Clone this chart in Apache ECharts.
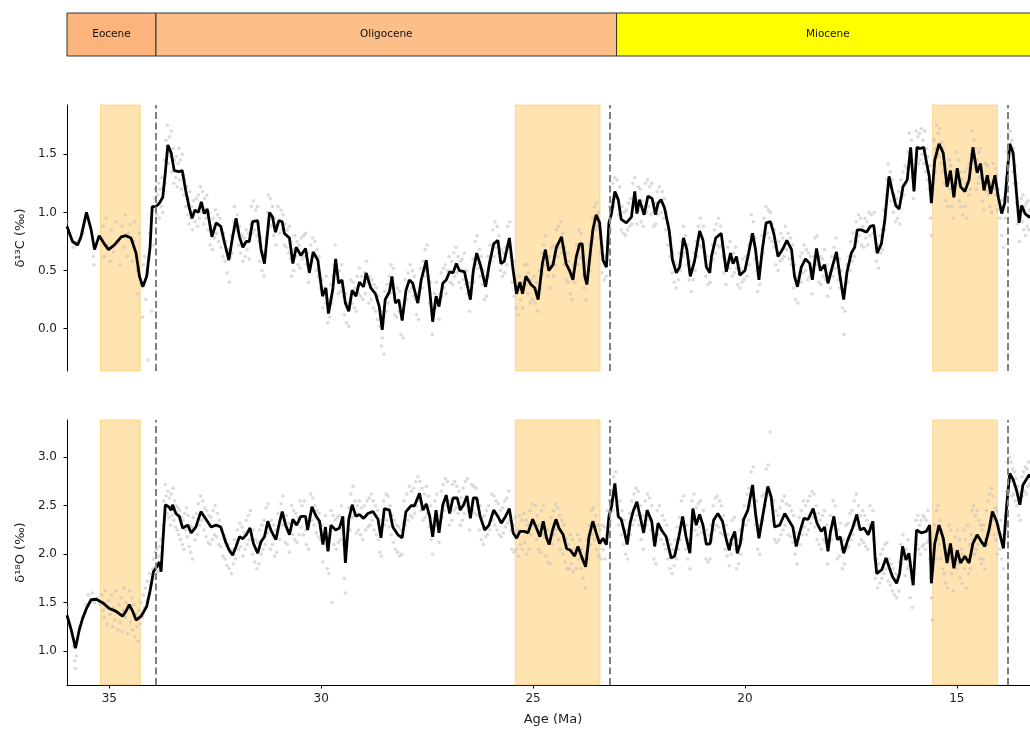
<!DOCTYPE html>
<html><head><meta charset="utf-8">
<script src="https://cdn.jsdelivr.net/npm/echarts@6/dist/echarts.min.js"></script>
<style>html,body{margin:0;padding:0;background:#fff;overflow:hidden}#c{width:1040px;height:730px}</style>
</head><body><div id="c"></div><script>
const epochNames = ['Eocene','Oligocene','Miocene'];
const epochStart = [37.8, 33.9, 23.03];
const epochEnd = [33.9, 23.03, 5.33];
const epochColors = ['#FDB47C','#FDBF8A','#FFFF00'];
const shadeStart = [35.21, 25.42, 15.57];
const shadeEnd = [34.27, 23.42, 14.04];
const eventAges = [33.9, 23.18, 13.8];
const ageTicks = [35,30,25,20,15];
const c13Ticks = [0,0.5,1,1.5];
const o18Ticks = [1,1.5,2,2.5,3];
const AGE_MIN = 13.06, AGE_MAX = 36.0;
const C13_MIN = -0.364, C13_MAX = 1.924;
const O18_MIN = 0.65, O18_MAX = 3.385;

const c13Line = [[36.0,0.88],[35.87,0.75],[35.75,0.72],[35.67,0.79],[35.54,1.0],[35.43,0.85],[35.35,0.68],[35.24,0.8],[35.12,0.73],[35.02,0.68],[34.88,0.72],[34.72,0.79],[34.61,0.8],[34.49,0.78],[34.37,0.65],[34.29,0.45],[34.21,0.36],[34.12,0.45],[34.04,0.7],[33.99,1.05],[33.9,1.05],[33.82,1.08],[33.74,1.13],[33.68,1.34],[33.62,1.58],[33.54,1.51],[33.47,1.36],[33.35,1.35],[33.28,1.36],[33.2,1.19],[33.12,1.05],[33.05,0.95],[32.98,1.02],[32.9,1.0],[32.83,1.09],[32.76,0.99],[32.69,1.03],[32.58,0.79],[32.48,0.91],[32.37,0.88],[32.29,0.75],[32.18,0.59],[32.11,0.75],[32.01,0.95],[31.93,0.79],[31.85,0.7],[31.77,0.75],[31.7,0.75],[31.62,0.92],[31.5,0.93],[31.42,0.68],[31.34,0.56],[31.22,1.0],[31.15,0.96],[31.08,0.83],[31.0,0.93],[30.92,0.92],[30.87,0.82],[30.75,0.78],[30.67,0.56],[30.59,0.7],[30.48,0.63],[30.37,0.69],[30.28,0.48],[30.19,0.66],[30.08,0.59],[29.97,0.28],[29.89,0.35],[29.83,0.13],[29.73,0.33],[29.66,0.6],[29.59,0.39],[29.51,0.42],[29.43,0.22],[29.35,0.15],[29.27,0.33],[29.18,0.28],[29.1,0.4],[29.0,0.36],[28.94,0.48],[28.83,0.35],[28.72,0.3],[28.63,0.19],[28.56,-0.01],[28.49,0.25],[28.39,0.32],[28.33,0.45],[28.25,0.22],[28.17,0.25],[28.09,0.07],[28.0,0.33],[27.92,0.42],[27.84,0.39],[27.72,0.22],[27.64,0.42],[27.52,0.59],[27.44,0.33],[27.37,0.06],[27.29,0.28],[27.22,0.19],[27.13,0.39],[27.05,0.42],[26.97,0.49],[26.89,0.48],[26.81,0.56],[26.74,0.5],[26.62,0.49],[26.48,0.25],[26.41,0.5],[26.33,0.65],[26.23,0.53],[26.12,0.36],[26.03,0.56],[25.93,0.73],[25.83,0.76],[25.76,0.56],[25.68,0.58],[25.56,0.78],[25.47,0.5],[25.39,0.3],[25.31,0.4],[25.25,0.3],[25.17,0.45],[25.05,0.38],[24.96,0.35],[24.88,0.25],[24.78,0.56],[24.71,0.68],[24.63,0.5],[24.53,0.55],[24.45,0.7],[24.33,0.79],[24.22,0.56],[24.14,0.5],[24.06,0.42],[23.98,0.62],[23.9,0.73],[23.84,0.73],[23.78,0.45],[23.73,0.38],[23.66,0.62],[23.59,0.85],[23.51,0.98],[23.43,0.91],[23.35,0.59],[23.27,0.53],[23.21,0.91],[23.15,0.99],[23.07,1.18],[22.99,1.11],[22.92,0.94],[22.8,0.91],[22.68,0.96],[22.6,1.18],[22.55,0.99],[22.49,1.11],[22.38,0.98],[22.29,1.14],[22.19,1.12],[22.11,0.98],[22.05,1.08],[21.98,1.11],[21.9,1.04],[21.79,0.85],[21.71,0.59],[21.62,0.48],[21.54,0.53],[21.45,0.78],[21.37,0.68],[21.29,0.45],[21.19,0.58],[21.07,0.84],[20.99,0.76],[20.91,0.53],[20.83,0.48],[20.79,0.62],[20.69,0.78],[20.56,0.82],[20.44,0.49],[20.34,0.65],[20.28,0.56],[20.2,0.62],[20.12,0.46],[20.0,0.5],[19.93,0.62],[19.82,0.82],[19.75,0.68],[19.67,0.42],[19.59,0.68],[19.5,0.91],[19.4,0.92],[19.32,0.82],[19.22,0.62],[19.1,0.69],[19.01,0.76],[18.9,0.68],[18.83,0.45],[18.76,0.36],[18.67,0.53],[18.57,0.6],[18.47,0.56],[18.41,0.42],[18.31,0.69],[18.22,0.5],[18.12,0.55],[18.04,0.39],[17.94,0.53],[17.84,0.66],[17.76,0.46],[17.67,0.25],[17.59,0.49],[17.49,0.65],[17.41,0.7],[17.35,0.85],[17.25,0.85],[17.13,0.83],[17.04,0.88],[16.96,0.89],[16.88,0.65],[16.78,0.73],[16.7,0.93],[16.6,1.31],[16.52,1.18],[16.44,1.06],[16.36,1.03],[16.27,1.22],[16.17,1.28],[16.09,1.56],[16.01,1.18],[15.94,1.56],[15.86,1.55],[15.78,1.56],[15.71,1.42],[15.65,1.31],[15.6,1.08],[15.52,1.45],[15.42,1.59],[15.32,1.51],[15.23,1.22],[15.15,1.36],[15.07,1.13],[14.99,1.38],[14.91,1.22],[14.81,1.18],[14.71,1.28],[14.62,1.56],[14.52,1.34],[14.44,1.42],[14.36,1.19],[14.28,1.32],[14.2,1.16],[14.1,1.32],[14.02,1.13],[13.94,0.99],[13.87,1.08],[13.75,1.59],[13.67,1.51],[13.59,1.16],[13.53,0.91],[13.47,1.06],[13.39,0.99],[13.29,0.96],[13.15,1.0]];

const o18Line = [[36.0,1.37],[35.9,1.22],[35.8,1.03],[35.71,1.22],[35.63,1.34],[35.54,1.44],[35.43,1.53],[35.31,1.535],[35.16,1.5],[35.0,1.44],[34.84,1.41],[34.69,1.36],[34.61,1.41],[34.53,1.48],[34.45,1.41],[34.37,1.32],[34.25,1.36],[34.12,1.46],[34.04,1.62],[33.96,1.82],[33.88,1.87],[33.82,1.92],[33.78,1.82],[33.73,2.18],[33.68,2.51],[33.6,2.49],[33.54,2.455],[33.51,2.51],[33.43,2.42],[33.35,2.39],[33.27,2.27],[33.15,2.3],[33.07,2.22],[32.96,2.28],[32.84,2.44],[32.72,2.36],[32.6,2.28],[32.48,2.3],[32.37,2.28],[32.26,2.13],[32.17,2.04],[32.09,1.99],[32.01,2.08],[31.93,2.18],[31.85,2.16],[31.77,2.2],[31.68,2.27],[31.6,2.11],[31.5,2.01],[31.42,2.13],[31.34,2.18],[31.26,2.34],[31.18,2.24],[31.07,2.15],[30.99,2.32],[30.92,2.44],[30.84,2.3],[30.75,2.2],[30.67,2.36],[30.58,2.3],[30.48,2.39],[30.37,2.39],[30.32,2.25],[30.22,2.49],[30.12,2.39],[30.04,2.34],[29.96,2.1],[29.9,2.28],[29.84,2.03],[29.77,2.3],[29.66,2.25],[29.57,2.27],[29.49,2.39],[29.43,1.91],[29.35,2.36],[29.27,2.51],[29.18,2.39],[29.1,2.41],[29.0,2.37],[28.9,2.42],[28.78,2.44],[28.66,2.36],[28.59,2.17],[28.51,2.47],[28.39,2.455],[28.31,2.28],[28.19,2.2],[28.09,2.17],[28.0,2.44],[27.88,2.5],[27.8,2.5],[27.68,2.63],[27.6,2.455],[27.52,2.52],[27.44,2.39],[27.37,2.18],[27.29,2.455],[27.22,2.22],[27.13,2.51],[27.05,2.61],[26.97,2.42],[26.89,2.58],[26.79,2.58],[26.72,2.455],[26.64,2.51],[26.56,2.6],[26.48,2.37],[26.41,2.58],[26.33,2.58],[26.25,2.39],[26.14,2.25],[26.04,2.3],[25.93,2.455],[25.83,2.39],[25.75,2.32],[25.65,2.39],[25.56,2.47],[25.47,2.22],[25.39,2.165],[25.31,2.235],[25.2,2.235],[25.12,2.22],[25.01,2.36],[24.92,2.27],[24.84,2.18],[24.76,2.34],[24.68,2.165],[24.62,2.1],[24.54,2.25],[24.46,2.36],[24.39,2.27],[24.29,2.2],[24.21,2.06],[24.12,2.04],[24.02,1.98],[23.94,2.08],[23.86,1.98],[23.76,1.87],[23.68,2.18],[23.59,2.34],[23.51,2.22],[23.43,2.11],[23.35,2.165],[23.27,2.1],[23.21,2.39],[23.15,2.49],[23.07,2.73],[22.99,2.39],[22.92,2.36],[22.84,2.22],[22.78,2.1],[22.71,2.32],[22.64,2.44],[22.55,2.54],[22.46,2.36],[22.39,2.22],[22.31,2.455],[22.2,2.34],[22.13,2.08],[22.05,2.32],[21.97,2.25],[21.86,2.18],[21.74,1.96],[21.66,1.98],[21.56,2.18],[21.47,2.39],[21.39,2.18],[21.3,2.01],[21.23,2.47],[21.15,2.3],[21.07,2.41],[20.99,2.3],[20.91,2.1],[20.82,2.11],[20.74,2.35],[20.64,2.42],[20.53,2.34],[20.44,2.15],[20.37,2.04],[20.32,2.15],[20.24,2.235],[20.18,2.01],[20.11,2.11],[20.03,2.36],[19.93,2.455],[19.82,2.715],[19.75,2.42],[19.67,2.165],[19.57,2.42],[19.46,2.7],[19.38,2.59],[19.3,2.28],[19.18,2.3],[19.06,2.42],[18.98,2.36],[18.87,2.28],[18.79,2.08],[18.71,2.22],[18.61,2.37],[18.51,2.36],[18.39,2.47],[18.3,2.32],[18.2,2.235],[18.12,2.28],[18.04,2.03],[17.98,2.235],[17.9,2.39],[17.82,2.15],[17.75,2.18],[17.67,2.01],[17.57,2.15],[17.46,2.27],[17.36,2.41],[17.28,2.25],[17.19,2.27],[17.09,2.2],[16.98,2.34],[16.93,1.98],[16.89,1.8],[16.77,1.84],[16.67,1.96],[16.6,1.87],[16.52,1.77],[16.42,1.7],[16.35,1.8],[16.28,2.08],[16.2,1.94],[16.13,2.01],[16.03,1.68],[15.95,2.25],[15.84,2.22],[15.72,2.235],[15.64,2.3],[15.6,1.7],[15.52,2.11],[15.42,2.3],[15.32,2.165],[15.23,1.91],[15.15,2.11],[15.07,1.855],[14.99,2.04],[14.91,1.91],[14.81,1.98],[14.71,1.91],[14.62,2.11],[14.52,2.2],[14.42,2.13],[14.34,2.08],[14.24,2.25],[14.16,2.44],[14.06,2.34],[13.98,2.2],[13.9,2.06],[13.82,2.52],[13.75,2.835],[13.67,2.77],[13.59,2.66],[13.51,2.51],[13.44,2.715],[13.36,2.77],[13.29,2.82],[13.15,2.75]];

const c13Scatter = [[35.98,0.92],[35.93,0.80],[35.85,0.70],[35.78,0.74],[35.62,0.82],[35.5,0.95],[35.45,0.88],[35.38,0.62],[35.36,0.55],
[35.18,0.78],[35.15,0.88],[35.12,0.62],[35.08,0.95],[35.05,0.72],[34.98,0.58],[34.95,0.85],[34.9,0.66],[34.85,0.92],[34.8,0.74],[34.75,0.55],[34.7,0.88],[34.66,0.70],[34.62,0.98],[34.58,0.62],[34.55,0.82],[34.5,0.90],[34.46,0.58],[34.42,0.75],[34.4,0.92],[34.35,0.50],[34.33,0.30],[34.3,0.82],
[34.26,0.38],[34.22,0.10],[34.2,0.55],[34.17,0.62],[34.14,0.25],[34.1,-0.27],[34.08,0.48],[34.05,0.82],[34.02,0.95],[34.0,0.15],[33.97,1.02],[33.95,0.72],[33.93,1.12],[33.91,1.2],
[33.88,0.98],[33.86,1.15],[33.84,1.25],[33.82,0.95],[33.8,1.2],[33.78,1.05],[33.76,1.3],[33.74,1.0],[33.72,1.22],[33.7,1.45],[33.68,1.25],[33.66,1.62],[33.64,1.5],[33.63,1.75],[33.6,1.42],[33.58,1.65],[33.56,1.48],[33.54,1.7],[33.52,1.35],[33.5,1.55],[33.48,1.25],[33.46,1.45],[33.44,1.30],[33.42,1.48],[33.4,1.22],[33.38,1.42],[33.36,1.55],[33.34,1.28],[33.32,1.45],[33.3,1.2],[33.28,1.5],[33.26,1.32],[33.24,1.15],[33.22,1.28],[33.2,1.05],[33.18,1.22],[33.16,0.98],[33.14,1.12],[33.12,0.90],[33.1,1.18],[33.08,0.95],[33.06,1.05],[33.04,0.85],[33.02,1.1],
[32.98,0.92],[32.95,1.12],[32.92,0.88],[32.9,1.15],[32.87,0.95],[32.85,1.22],[32.82,1.0],[32.8,1.18],[32.77,0.90],[32.75,1.12],[32.72,0.95],[32.7,1.15],[32.67,0.85],[32.64,1.0],[32.62,0.72],[32.6,0.88],[32.57,0.68],[32.55,0.95],[32.52,0.78],[32.5,1.02],[32.47,0.82],[32.45,0.98],[32.42,0.75],[32.4,0.95],[32.37,0.70],[32.35,0.85],[32.32,0.62],[32.3,0.82],[32.27,0.58],[32.25,0.75],[32.22,0.48],[32.2,0.68],[32.17,0.40],[32.15,0.62],[32.12,0.80],[32.1,0.65],[32.07,0.92],[32.05,1.05],[32.02,0.85],
[31.98,0.98],[31.95,0.72],[31.92,0.88],[31.9,0.65],[31.87,0.80],[31.85,0.58],[31.82,0.78],[31.8,0.62],[31.77,0.85],[31.75,0.68],[31.72,0.82],[31.7,0.60],[31.67,0.90],[31.65,1.05],[31.62,0.82],[31.6,1.10],[31.57,0.85],[31.55,1.02],[31.52,0.80],[31.5,1.05],[31.47,0.75],[31.45,0.58],[31.42,0.78],[31.4,0.50],[31.37,0.65],[31.35,0.45],[31.32,0.62],[31.3,0.78],[31.27,1.0],[31.25,1.15],[31.22,0.90],[31.2,1.12],[31.17,0.88],[31.15,1.05],[31.12,0.80],[31.1,0.95],[31.07,0.72],[31.05,0.90],[31.02,1.05],
[30.98,0.82],[30.95,1.02],[30.92,0.85],[30.9,0.98],[30.87,0.72],[30.85,0.90],[30.82,0.70],[30.8,0.85],[30.77,0.65],[30.75,0.88],[30.72,0.60],[30.7,0.45],[30.67,0.68],[30.65,0.50],[30.62,0.80],[30.6,0.62],[30.57,0.75],[30.55,0.55],[30.52,0.72],[30.5,0.52],[30.47,0.78],[30.45,0.60],[30.42,0.80],[30.4,0.62],[30.37,0.82],[30.35,0.55],[30.32,0.65],[30.3,0.40],[30.27,0.55],[30.25,0.72],[30.22,0.58],[30.2,0.78],[30.17,0.62],[30.15,0.75],[30.12,0.50],[30.1,0.68],[30.07,0.45],[30.05,0.62],[30.02,0.35],
[29.98,0.42],[29.96,0.18],[29.93,0.35],[29.9,0.22],[29.88,0.45],[29.85,0.05],[29.83,0.25],[29.8,0.10],[29.78,0.38],[29.75,0.22],[29.72,0.45],[29.7,0.55],[29.67,0.72],[29.65,0.50],[29.62,0.48],[29.6,0.30],[29.57,0.50],[29.55,0.32],[29.52,0.55],[29.5,0.35],[29.47,0.28],[29.45,0.12],[29.42,0.30],[29.4,0.05],[29.37,0.22],[29.35,0.02],[29.32,0.25],[29.3,0.42],[29.27,0.22],[29.25,0.40],[29.22,0.18],[29.2,0.35],[29.17,0.15],[29.15,0.45],[29.12,0.30],[29.1,0.52],[29.07,0.28],[29.05,0.45],[29.02,0.25],
[28.98,0.48],[28.96,0.30],[28.93,0.58],[28.9,0.40],[28.88,0.22],[28.85,0.45],[28.82,0.25],[28.8,0.42],[28.77,0.18],[28.75,0.38],[28.72,0.15],[28.7,0.35],[28.67,0.08],[28.65,0.28],[28.62,0.02],[28.6,0.15],[28.58,-0.15],[28.56,-0.08],[28.54,0.05],[28.52,-0.22],[28.5,0.32],[28.47,0.15],[28.45,0.38],[28.42,0.22],[28.4,0.45],[28.37,0.30],[28.35,0.55],[28.32,0.35],[28.3,0.52],[28.27,0.12],[28.25,0.30],[28.22,0.10],[28.2,0.35],[28.17,0.15],[28.15,0.32],[28.12,-0.05],[28.1,0.15],[28.07,-0.08],[28.05,0.20],[28.02,0.42],
[27.98,0.25],[27.95,0.48],[27.92,0.32],[27.9,0.55],[27.87,0.35],[27.85,0.50],[27.82,0.28],[27.8,0.45],[27.77,0.25],[27.75,0.12],[27.72,0.30],[27.7,0.08],[27.67,0.35],[27.65,0.52],[27.62,0.35],[27.6,0.58],[27.57,0.45],[27.55,0.68],[27.52,0.50],[27.5,0.72],[27.47,0.45],[27.45,0.22],[27.42,0.40],[27.4,0.15],[27.38,-0.05],[27.36,0.10],[27.33,0.30],[27.3,0.18],[27.28,0.40],[27.25,0.25],[27.22,0.08],[27.2,0.30],[27.17,0.48],[27.15,0.28],[27.12,0.52],[27.1,0.35],[27.07,0.55],[27.05,0.30],[27.02,0.50],
[26.98,0.62],[26.95,0.40],[26.92,0.58],[26.9,0.38],[26.87,0.65],[26.85,0.45],[26.82,0.70],[26.8,0.48],[26.77,0.62],[26.75,0.40],[26.72,0.58],[26.7,0.35],[26.67,0.60],[26.65,0.42],[26.62,0.65],[26.6,0.38],[26.57,0.50],[26.55,0.30],[26.52,0.40],[26.5,0.15],[26.47,0.30],[26.45,0.45],[26.42,0.60],[26.4,0.40],[26.37,0.75],[26.35,0.55],[26.32,0.80],[26.3,0.52],[26.27,0.68],[26.25,0.45],[26.22,0.62],[26.2,0.38],[26.17,0.50],[26.15,0.25],[26.12,0.45],[26.1,0.28],[26.07,0.62],[26.05,0.45],[26.02,0.72],
[25.98,0.58],[25.95,0.85],[25.92,0.62],[25.9,0.92],[25.87,0.70],[25.85,0.88],[25.82,0.65],[25.8,0.80],[25.77,0.50],[25.75,0.68],[25.72,0.45],[25.7,0.65],[25.67,0.48],[25.65,0.70],[25.62,0.55],[25.6,0.88],[25.57,0.70],[25.55,0.92],[25.52,0.62],[25.5,0.40],[25.47,0.58],[25.45,0.28],[25.42,0.42],[25.4,0.18],[25.37,0.35],[25.35,0.12],[25.32,0.45],[25.3,0.25],[25.27,0.40],[25.25,0.18],[25.22,0.35],[25.2,0.55],[25.17,0.38],[25.15,0.55],[25.12,0.30],[25.1,0.48],[25.07,0.22],[25.05,0.42],[25.02,0.25],
[24.98,0.45],[24.95,0.22],[24.92,0.40],[24.9,0.15],[24.87,0.32],[24.85,0.50],[24.82,0.35],[24.8,0.65],[24.77,0.48],[24.75,0.72],[24.72,0.55],[24.7,0.80],[24.67,0.60],[24.65,0.45],[24.62,0.62],[24.6,0.35],[24.57,0.55],[24.55,0.70],[24.52,0.45],[24.5,0.72],[24.47,0.55],[24.45,0.85],[24.42,0.62],[24.4,0.88],[24.37,0.70],[24.35,0.92],[24.32,0.65],[24.3,0.82],[24.27,0.55],[24.25,0.70],[24.22,0.42],[24.2,0.65],[24.17,0.40],[24.15,0.58],[24.12,0.30],[24.1,0.48],[24.07,0.25],[24.05,0.55],[24.02,0.40],
[23.98,0.72],[23.95,0.55],[23.92,0.85],[23.9,0.62],[23.87,0.82],[23.85,0.60],[23.82,0.62],[23.8,0.35],[23.77,0.55],[23.75,0.25],[23.72,0.45],[23.7,0.58],[23.67,0.72],[23.65,0.50],[23.62,0.75],[23.6,0.95],[23.57,0.78],[23.55,1.05],[23.52,0.85],[23.5,1.08],[23.47,0.88],[23.45,1.0],[23.42,0.78],[23.4,0.65],[23.37,0.48],[23.35,0.70],[23.32,0.42],[23.3,0.62],[23.27,0.45],[23.25,0.75],[23.22,0.88],[23.2,1.05],[23.17,0.85],[23.15,1.10],[23.12,1.25],[23.1,1.05],[23.07,1.30],[23.05,1.12],[23.02,1.28],
[22.98,0.98],[22.95,1.22],[22.92,0.85],[22.9,1.05],[22.87,0.82],[22.85,1.0],[22.82,0.80],[22.8,1.02],[22.77,0.85],[22.75,1.08],[22.72,0.88],[22.7,1.12],[22.67,0.90],[22.65,1.25],[22.62,1.05],[22.6,1.30],[22.57,1.08],[22.55,0.90],[22.52,1.22],[22.5,1.02],[22.47,1.20],[22.45,0.92],[22.42,1.10],[22.4,0.88],[22.37,1.05],[22.35,1.25],[22.32,1.0],[22.3,1.28],[22.27,1.05],[22.25,1.22],[22.22,0.98],[22.2,1.25],[22.17,1.0],[22.15,0.88],[22.12,1.08],[22.1,0.90],[22.07,1.18],[22.05,0.98],[22.02,1.22],
[21.98,1.0],[21.95,1.18],[21.92,0.95],[21.9,1.12],[21.87,0.85],[21.85,1.0],[21.82,0.72],[21.8,0.90],[21.77,0.62],[21.75,0.78],[21.72,0.48],[21.7,0.65],[21.67,0.40],[21.65,0.58],[21.62,0.35],[21.6,0.55],[21.57,0.42],[21.55,0.65],[21.52,0.50],[21.5,0.75],[21.47,0.62],[21.45,0.88],[21.42,0.65],[21.4,0.80],[21.37,0.55],[21.35,0.72],[21.32,0.42],[21.3,0.58],[21.27,0.32],[21.25,0.50],[21.22,0.42],[21.2,0.65],[21.17,0.50],[21.15,0.75],[21.12,0.62],[21.1,0.88],[21.07,0.72],[21.05,0.95],[21.02,0.70],
[20.98,0.88],[20.95,0.65],[20.92,0.45],[20.9,0.62],[20.87,0.38],[20.85,0.55],[20.82,0.40],[20.8,0.58],[20.77,0.72],[20.75,0.60],[20.72,0.85],[20.7,0.65],[20.67,0.90],[20.65,0.72],[20.62,0.95],[20.6,0.70],[20.57,0.88],[20.55,0.72],[20.52,0.62],[20.5,0.48],[20.47,0.60],[20.45,0.38],[20.42,0.55],[20.4,0.70],[20.37,0.52],[20.35,0.75],[20.32,0.58],[20.3,0.45],[20.27,0.65],[20.25,0.48],[20.22,0.70],[20.2,0.52],[20.17,0.38],[20.15,0.55],[20.12,0.35],[20.1,0.52],[20.07,0.40],[20.05,0.60],[20.02,0.42],
[19.98,0.62],[19.95,0.45],[19.92,0.72],[19.9,0.55],[19.87,0.80],[19.85,0.98],[19.82,0.75],[19.8,0.92],[19.77,0.60],[19.75,0.78],[19.72,0.50],[19.7,0.32],[19.67,0.52],[19.65,0.38],[19.62,0.62],[19.6,0.80],[19.57,0.65],[19.55,0.95],[19.52,0.80],[19.5,1.05],[19.47,0.82],[19.45,1.02],[19.42,0.78],[19.4,1.0],[19.37,0.75],[19.35,0.90],[19.32,0.70],[19.3,0.85],[19.27,0.55],[19.25,0.72],[19.22,0.50],[19.2,0.75],[19.17,0.58],[19.15,0.82],[19.12,0.60],[19.1,0.78],[19.07,0.62],[19.05,0.88],[19.02,0.68],
[18.98,0.82],[18.95,0.60],[18.92,0.78],[18.9,0.55],[18.87,0.72],[18.85,0.35],[18.82,0.55],[18.8,0.25],[18.77,0.45],[18.75,0.22],[18.72,0.48],[18.7,0.62],[18.67,0.40],[18.65,0.65],[18.62,0.48],[18.6,0.72],[18.57,0.50],[18.55,0.68],[18.52,0.42],[18.5,0.65],[18.47,0.45],[18.45,0.62],[18.42,0.30],[18.4,0.52],[18.37,0.62],[18.35,0.78],[18.32,0.55],[18.3,0.80],[18.27,0.58],[18.25,0.40],[18.22,0.62],[18.2,0.38],[18.17,0.60],[18.15,0.45],[18.12,0.68],[18.1,0.42],[18.07,0.55],[18.05,0.28],[18.02,0.48],
[17.98,0.35],[17.95,0.62],[17.92,0.45],[17.9,0.70],[17.87,0.52],[17.85,0.78],[17.82,0.58],[17.8,0.42],[17.77,0.60],[17.75,0.35],[17.72,0.50],[17.7,0.18],[17.68,0.32],[17.66,-0.05],[17.64,0.15],[17.62,0.38],[17.6,0.55],[17.57,0.40],[17.55,0.62],[17.52,0.50],[17.5,0.75],[17.47,0.58],[17.45,0.82],[17.42,0.62],[17.4,0.78],[17.37,0.92],[17.35,0.75],[17.32,0.98],[17.3,0.80],[17.27,0.95],[17.25,0.72],[17.22,0.88],[17.2,0.70],[17.17,0.95],[17.15,0.78],[17.12,0.92],[17.1,0.72],[17.07,1.0],[17.05,0.80],[17.02,0.98],
[16.98,0.82],[16.95,1.0],[16.92,0.78],[16.9,0.58],[16.87,0.72],[16.85,0.52],[16.82,0.80],[16.8,0.65],[16.77,0.85],[16.75,0.68],[16.72,1.02],[16.7,0.85],[16.67,1.15],[16.65,1.28],[16.62,1.42],[16.6,1.22],[16.57,1.35],[16.55,1.10],[16.52,1.28],[16.5,1.0],[16.47,1.15],[16.45,0.92],[16.42,1.12],[16.4,0.95],[16.37,1.18],[16.35,0.90],[16.32,1.28],[16.3,1.12],[16.27,1.35],[16.25,1.15],[16.22,1.40],[16.2,1.25],[16.17,1.38],[16.15,1.52],[16.12,1.68],[16.1,1.45],[16.07,1.62],[16.05,1.30],[16.02,1.12],
[15.98,1.45],[15.96,1.70],[15.94,1.48],[15.92,1.65],[15.9,1.42],[15.88,1.68],[15.86,1.45],[15.84,1.72],[15.82,1.50],[15.8,1.62],[15.78,1.42],[15.76,1.70],[15.74,1.35],[15.72,1.55],[15.7,1.28],[15.68,1.48],[15.66,1.20],[15.64,1.40],[15.62,0.95],[15.6,0.80],[15.58,1.22],[15.56,1.40],[15.54,1.62],[15.52,1.35],[15.5,1.55],[15.48,1.75],[15.46,1.50],[15.44,1.68],[15.42,1.48],[15.4,1.72],[15.38,1.42],[15.36,1.60],[15.34,1.35],[15.32,1.55],[15.3,1.25],[15.28,1.42],[15.26,1.10],[15.24,1.32],[15.22,1.05],[15.2,1.25],[15.18,1.45],[15.16,1.20],[15.14,1.40],[15.12,1.05],[15.1,1.22],[15.08,0.95],[15.06,1.15],[15.04,1.35],[15.02,1.52],
[14.98,1.25],[14.96,1.45],[14.94,1.10],[14.92,1.35],[14.9,1.05],[14.88,1.28],[14.86,0.98],[14.84,1.20],[14.82,1.35],[14.8,1.05],[14.78,1.25],[14.76,0.95],[14.74,1.38],[14.72,1.15],[14.7,1.42],[14.68,1.20],[14.66,1.50],[14.64,1.70],[14.62,1.45],[14.6,1.62],[14.58,1.38],[14.56,1.55],[14.54,1.20],[14.52,1.45],[14.5,1.25],[14.48,1.52],[14.46,1.30],[14.44,1.55],[14.42,1.32],[14.4,1.10],[14.38,1.28],[14.36,1.02],[14.34,1.20],[14.32,1.42],[14.3,1.18],[14.28,1.40],[14.26,1.15],[14.24,1.32],[14.22,1.05],[14.2,1.25],[14.18,1.0],[14.16,1.22],[14.14,1.42],[14.12,1.20],[14.1,1.38],[14.08,1.15],[14.06,1.32],[14.04,1.02],[14.02,1.20],
[13.98,0.95],[13.96,1.10],[13.94,0.80],[13.92,1.05],[13.9,0.70],[13.88,1.12],[13.86,0.95],[13.84,1.30],[13.82,1.52],[13.8,1.40],[13.78,1.65],[13.76,1.48],[13.74,1.70],[13.72,1.50],[13.7,1.62],[13.68,1.35],[13.66,1.55],[13.64,1.25],[13.62,1.40],[13.6,1.08],[13.58,1.25],[13.56,0.90],[13.54,1.05],[13.52,0.75],[13.5,0.95],[13.48,1.12],[13.46,0.92],[13.44,1.15],[13.42,0.85],[13.4,1.05],[13.38,0.80],[13.36,1.08],[13.34,0.88],[13.32,1.10],[13.3,0.85],[13.28,1.02]];

const o18Scatter = [[35.98,1.45],[35.95,1.30],[35.88,1.15],[35.85,1.05],[35.82,0.90],[35.8,0.82],[35.78,0.95],[35.75,1.12],[35.7,1.25],[35.62,1.35],[35.55,1.48],[35.5,1.58],[35.45,1.52],[35.4,1.60],[35.35,1.50],[35.28,1.55],[35.22,1.48],[35.18,1.58],[35.15,1.42],[35.12,1.35],[35.1,1.62],[35.07,1.45],[35.05,1.28],[35.02,1.52],
[34.98,1.38],[34.95,1.58],[34.92,1.25],[34.9,1.45],[34.87,1.32],[34.85,1.62],[34.82,1.40],[34.8,1.22],[34.77,1.48],[34.75,1.30],[34.72,1.55],[34.7,1.20],[34.67,1.42],[34.65,1.65],[34.62,1.35],[34.6,1.50],[34.57,1.18],[34.55,1.45],[34.52,1.62],[34.5,1.30],[34.47,1.55],[34.45,1.22],[34.42,1.48],[34.4,1.15],[34.37,1.38],[34.35,1.25],[34.32,1.10],[34.3,1.42],[34.27,1.28],[34.25,1.50],[34.22,1.35],[34.2,1.58],[34.17,1.45],[34.15,1.65],[34.12,1.52],[34.1,1.72],[34.07,1.58],[34.05,1.80],[34.02,1.68],
[33.98,1.85],[33.96,1.95],[33.94,1.75],[33.92,2.02],[33.9,1.88],[33.88,2.05],[33.86,1.82],[33.84,1.98],[33.82,2.08],[33.8,1.90],[33.78,2.15],[33.76,2.0],[33.74,2.30],[33.72,2.55],[33.7,2.35],[33.68,2.72],[33.66,2.60],[33.64,2.42],[33.62,2.65],[33.6,2.38],[33.58,2.58],[33.56,2.30],[33.54,2.62],[33.52,2.40],[33.5,2.68],[33.48,2.35],[33.46,2.55],[33.44,2.28],[33.42,2.50],[33.4,2.25],[33.38,2.48],[33.36,2.20],[33.34,2.45],[33.32,2.15],[33.3,2.38],[33.28,2.10],[33.26,2.35],[33.24,2.05],[33.22,2.42],[33.2,2.25],[33.18,2.48],[33.16,2.18],[33.14,2.40],[33.12,2.08],[33.1,2.30],[33.08,2.02],[33.06,2.28],[33.04,1.95],[33.02,2.38],
[32.98,2.15],[32.95,2.42],[32.92,2.20],[32.9,2.52],[32.87,2.30],[32.85,2.60],[32.82,2.35],[32.8,2.55],[32.77,2.25],[32.75,2.48],[32.72,2.18],[32.7,2.45],[32.67,2.12],[32.65,2.40],[32.62,2.10],[32.6,2.38],[32.57,2.15],[32.55,2.45],[32.52,2.20],[32.5,2.50],[32.47,2.18],[32.45,2.42],[32.42,2.10],[32.4,2.35],[32.37,2.08],[32.35,2.25],[32.32,1.98],[32.3,2.20],[32.27,1.95],[32.25,2.15],[32.22,1.88],[32.2,2.10],[32.17,1.85],[32.15,2.02],[32.12,1.80],[32.1,2.05],[32.07,1.90],[32.05,2.15],[32.02,1.95],
[31.98,2.25],[31.95,2.05],[31.92,2.32],[31.9,2.08],[31.87,2.28],[31.85,1.98],[31.82,2.22],[31.8,2.05],[31.77,2.35],[31.75,2.10],[31.72,2.40],[31.7,2.15],[31.67,2.45],[31.65,2.20],[31.62,2.0],[31.6,2.25],[31.57,1.92],[31.55,2.15],[31.52,1.85],[31.5,2.12],[31.47,1.90],[31.45,2.25],[31.42,2.0],[31.4,2.30],[31.37,2.05],[31.35,2.35],[31.32,2.10],[31.3,2.48],[31.27,2.22],[31.25,2.52],[31.22,2.28],[31.2,2.05],[31.17,2.35],[31.15,2.10],[31.12,2.30],[31.1,1.98],[31.07,2.25],[31.05,2.02],[31.02,2.42],
[30.98,2.15],[30.95,2.52],[30.92,2.30],[30.9,2.60],[30.87,2.35],[30.85,2.12],[30.82,2.40],[30.8,2.10],[30.77,2.32],[30.75,2.02],[30.72,2.25],[30.7,2.50],[30.67,2.20],[30.65,2.45],[30.62,2.15],[30.6,2.42],[30.57,2.12],[30.55,2.38],[30.52,2.20],[30.5,2.55],[30.47,2.28],[30.45,2.50],[30.42,2.20],[30.4,2.55],[30.37,2.25],[30.35,2.10],[30.32,2.35],[30.3,2.05],[30.27,2.40],[30.25,2.62],[30.22,2.35],[30.2,2.58],[30.17,2.30],[30.15,2.50],[30.12,2.22],[30.1,2.45],[30.07,2.18],[30.05,2.42],[30.02,2.15],
[29.98,2.30],[29.96,1.92],[29.93,2.15],[29.9,2.40],[29.88,2.10],[29.86,1.85],[29.84,2.05],[29.82,1.80],[29.8,2.20],[29.77,2.45],[29.75,1.50],[29.72,2.40],[29.7,2.10],[29.67,2.35],[29.65,2.05],[29.62,2.38],[29.6,2.12],[29.57,2.40],[29.55,2.15],[29.52,2.50],[29.5,2.25],[29.47,2.10],[29.45,1.75],[29.43,1.60],[29.41,1.95],[29.38,2.20],[29.35,2.48],[29.32,2.25],[29.3,2.62],[29.27,2.38],[29.25,2.70],[29.22,2.40],[29.2,2.55],[29.17,2.22],[29.15,2.50],[29.12,2.25],[29.1,2.55],[29.07,2.20],[29.05,2.48],[29.02,2.15],
[28.98,2.50],[28.95,2.25],[28.92,2.55],[28.9,2.28],[28.87,2.58],[28.85,2.30],[28.82,2.62],[28.8,2.35],[28.77,2.55],[28.75,2.25],[28.72,2.50],[28.7,2.20],[28.67,2.45],[28.65,2.15],[28.62,2.02],[28.6,2.25],[28.58,1.98],[28.56,2.35],[28.53,2.55],[28.5,2.30],[28.47,2.62],[28.45,2.35],[28.42,2.60],[28.4,2.28],[28.37,2.50],[28.35,2.20],[28.32,2.40],[28.3,2.12],[28.27,2.35],[28.25,2.05],[28.22,2.30],[28.2,2.02],[28.17,2.28],[28.15,1.98],[28.12,2.25],[28.1,2.0],[28.07,2.32],[28.05,2.55],[28.02,2.30],
[27.98,2.62],[27.95,2.35],[27.92,2.70],[27.9,2.40],[27.87,2.65],[27.85,2.38],[27.82,2.68],[27.8,2.42],[27.77,2.75],[27.75,2.50],[27.72,2.80],[27.7,2.55],[27.67,2.75],[27.65,2.45],[27.62,2.68],[27.6,2.35],[27.57,2.62],[27.55,2.38],[27.52,2.70],[27.5,2.42],[27.47,2.60],[27.45,2.28],[27.42,2.50],[27.4,2.15],[27.37,2.0],[27.35,2.30],[27.32,2.55],[27.3,2.30],[27.27,2.62],[27.25,2.35],[27.22,2.12],[27.2,2.40],[27.17,2.65],[27.15,2.38],[27.12,2.72],[27.1,2.45],[27.07,2.78],[27.05,2.50],[27.02,2.75],
[26.98,2.30],[26.95,2.55],[26.92,2.35],[26.9,2.72],[26.87,2.45],[26.85,2.75],[26.82,2.48],[26.8,2.70],[26.77,2.42],[26.75,2.65],[26.72,2.30],[26.7,2.58],[26.67,2.35],[26.65,2.68],[26.62,2.42],[26.6,2.75],[26.57,2.50],[26.55,2.78],[26.52,2.45],[26.5,2.25],[26.47,2.48],[26.45,2.72],[26.42,2.45],[26.4,2.70],[26.37,2.42],[26.35,2.68],[26.32,2.40],[26.3,2.55],[26.27,2.25],[26.25,2.50],[26.22,2.15],[26.2,2.38],[26.17,2.10],[26.15,2.40],[26.12,2.18],[26.1,2.45],[26.07,2.20],[26.05,2.50],[26.02,2.25],
[25.98,2.62],[25.95,2.35],[25.92,2.60],[25.9,2.30],[25.87,2.55],[25.85,2.25],[25.82,2.52],[25.8,2.20],[25.77,2.45],[25.75,2.18],[25.72,2.48],[25.7,2.22],[25.67,2.55],[25.65,2.28],[25.62,2.58],[25.6,2.32],[25.57,2.65],[25.55,2.35],[25.52,2.25],[25.5,2.05],[25.47,2.30],[25.45,2.02],[25.42,2.38],[25.4,2.05],[25.37,2.25],[25.35,1.98],[25.32,2.40],[25.3,2.10],[25.27,2.35],[25.25,2.05],[25.22,2.42],[25.2,2.12],[25.17,2.35],[25.15,2.0],[25.12,2.30],[25.1,2.05],[25.07,2.45],[25.05,2.20],[25.02,2.52],
[24.98,2.30],[24.95,2.50],[24.92,2.15],[24.9,2.40],[24.87,2.05],[24.85,2.30],[24.82,2.02],[24.8,2.45],[24.77,2.20],[24.75,2.50],[24.72,2.18],[24.7,1.98],[24.67,2.25],[24.65,1.92],[24.62,2.15],[24.6,1.90],[24.57,2.38],[24.55,2.10],[24.52,2.45],[24.5,2.20],[24.47,2.52],[24.45,2.25],[24.42,2.48],[24.4,2.15],[24.37,2.40],[24.35,2.05],[24.32,2.35],[24.3,2.0],[24.27,2.30],[24.25,1.92],[24.22,2.15],[24.2,1.85],[24.17,2.10],[24.15,1.85],[24.12,2.20],[24.1,1.90],[24.07,2.15],[24.05,1.82],[24.02,2.05],
[23.98,1.85],[23.95,2.20],[23.92,1.95],[23.9,2.15],[23.87,1.85],[23.85,2.05],[23.82,1.75],[23.8,1.95],[23.77,1.65],[23.75,2.0],[23.72,2.15],[23.7,1.95],[23.67,2.30],[23.65,2.10],[23.62,2.45],[23.6,2.20],[23.57,2.48],[23.55,2.15],[23.52,2.40],[23.5,2.05],[23.47,2.30],[23.45,1.98],[23.42,2.25],[23.4,1.95],[23.37,2.30],[23.35,2.05],[23.32,2.28],[23.3,1.95],[23.27,2.20],[23.25,2.45],[23.22,2.25],[23.2,2.55],[23.17,2.35],[23.15,2.65],[23.12,2.45],[23.1,2.80],[23.07,2.60],[23.05,2.85],[23.02,2.50],
[22.98,2.30],[22.95,2.55],[22.92,2.20],[22.9,2.45],[22.87,2.10],[22.85,2.35],[22.82,2.0],[22.8,2.25],[22.77,1.95],[22.75,2.15],[22.72,2.42],[22.7,2.20],[22.67,2.55],[22.65,2.30],[22.62,2.62],[22.6,2.35],[22.57,2.68],[22.55,2.40],[22.52,2.65],[22.5,2.30],[22.47,2.50],[22.45,2.15],[22.42,2.40],[22.4,2.05],[22.37,2.30],[22.35,2.55],[22.32,2.30],[22.3,2.62],[22.27,2.35],[22.25,2.58],[22.22,2.25],[22.2,2.50],[22.17,2.15],[22.15,1.95],[22.12,2.20],[22.1,1.90],[22.07,2.45],[22.05,2.20],[22.02,2.50],
[21.98,2.15],[21.95,2.40],[21.92,2.10],[21.9,2.35],[21.87,2.05],[21.85,2.30],[21.82,1.95],[21.8,2.15],[21.77,1.85],[21.75,2.10],[21.72,1.80],[21.7,2.05],[21.67,1.88],[21.65,2.15],[21.62,1.95],[21.6,2.28],[21.57,2.05],[21.55,2.38],[21.52,2.15],[21.5,2.55],[21.47,2.30],[21.45,2.60],[21.42,2.25],[21.4,2.05],[21.37,2.30],[21.35,1.95],[21.32,2.15],[21.3,1.85],[21.27,2.25],[21.25,2.55],[21.22,2.35],[21.2,2.62],[21.17,2.25],[21.15,2.48],[21.12,2.20],[21.1,2.52],[21.07,2.28],[21.05,2.55],[21.02,2.22],
[20.98,2.45],[20.95,2.15],[20.92,1.95],[20.9,2.25],[20.87,1.92],[20.85,2.20],[20.82,1.95],[20.8,2.30],[20.77,2.15],[20.75,2.50],[20.72,2.25],[20.7,2.58],[20.67,2.30],[20.65,2.60],[20.62,2.28],[20.6,2.55],[20.57,2.22],[20.55,2.50],[20.52,2.20],[20.5,2.40],[20.47,2.05],[20.45,2.30],[20.42,1.98],[20.4,2.20],[20.37,1.88],[20.35,2.15],[20.32,2.0],[20.3,2.35],[20.27,2.10],[20.25,2.38],[20.22,2.05],[20.2,1.85],[20.17,2.15],[20.15,1.90],[20.12,2.25],[20.1,2.0],[20.07,2.35],[20.05,2.15],[20.02,2.50],
[19.98,2.30],[19.95,2.62],[19.92,2.35],[19.9,2.68],[19.87,2.50],[19.85,2.85],[19.82,2.60],[19.8,2.90],[19.77,2.55],[19.75,2.30],[19.72,2.55],[19.7,2.05],[19.67,2.30],[19.65,2.0],[19.62,2.35],[19.6,2.60],[19.57,2.35],[19.55,2.62],[19.52,2.50],[19.5,2.88],[19.47,2.60],[19.45,2.92],[19.42,2.65],[19.4,3.26],[19.37,2.50],[19.35,2.35],[19.32,2.55],[19.3,2.15],[19.27,2.45],[19.25,2.12],[19.22,2.40],[19.2,2.15],[19.17,2.48],[19.15,2.20],[19.12,2.55],[19.1,2.25],[19.07,2.60],[19.05,2.30],[19.02,2.52],
[18.98,2.20],[18.95,2.50],[18.92,2.18],[18.9,2.45],[18.87,2.12],[18.85,2.40],[18.82,2.0],[18.8,2.22],[18.77,1.90],[18.75,2.15],[18.72,2.38],[18.7,2.10],[18.67,2.45],[18.65,2.20],[18.62,2.55],[18.6,2.28],[18.57,2.50],[18.55,2.20],[18.52,2.55],[18.5,2.25],[18.47,2.60],[18.45,2.32],[18.42,2.65],[18.4,2.38],[18.37,2.62],[18.35,2.28],[18.32,2.50],[18.3,2.15],[18.27,2.42],[18.25,2.10],[18.22,2.35],[18.2,2.05],[18.17,2.40],[18.15,2.15],[18.12,2.45],[18.1,2.12],[18.07,2.30],[18.05,1.90],[18.02,2.15],
[17.98,2.40],[17.95,2.15],[17.92,2.55],[17.9,2.30],[17.87,2.50],[17.85,2.20],[17.82,1.95],[17.8,2.25],[17.77,1.98],[17.75,2.32],[17.72,2.05],[17.7,1.85],[17.67,2.15],[17.65,1.90],[17.62,2.30],[17.6,2.05],[17.57,2.32],[17.55,2.08],[17.52,2.42],[17.5,2.15],[17.47,2.45],[17.45,2.20],[17.42,2.55],[17.4,2.30],[17.37,2.62],[17.35,2.35],[17.32,2.50],[17.3,2.10],[17.27,2.40],[17.25,2.15],[17.22,2.45],[17.2,2.12],[17.17,2.40],[17.15,2.08],[17.12,2.35],[17.1,2.05],[17.07,2.30],[17.05,2.50],[17.02,2.25],
[16.98,2.45],[16.96,2.15],[16.94,1.95],[16.92,1.75],[16.9,1.95],[16.87,1.65],[16.85,1.90],[16.82,1.70],[16.8,2.0],[16.77,1.75],[16.75,2.05],[16.72,1.80],[16.7,2.10],[16.67,1.85],[16.65,2.12],[16.62,1.72],[16.6,1.95],[16.57,1.68],[16.55,1.90],[16.52,1.62],[16.5,1.85],[16.47,1.58],[16.45,1.80],[16.42,1.55],[16.4,1.78],[16.37,1.62],[16.35,1.92],[16.32,2.10],[16.3,1.90],[16.27,2.20],[16.25,1.95],[16.22,1.78],[16.2,2.05],[16.17,1.85],[16.15,2.15],[16.12,1.88],[16.1,1.55],[16.07,1.75],[16.05,1.45],[16.02,1.72],
[15.98,2.05],[15.96,2.35],[15.94,2.10],[15.92,2.40],[15.9,2.05],[15.88,2.30],[15.86,2.0],[15.84,2.35],[15.82,2.08],[15.8,2.40],[15.78,2.10],[15.76,2.38],[15.74,2.05],[15.72,2.35],[15.7,2.12],[15.68,2.45],[15.66,2.15],[15.64,1.95],[15.62,1.75],[15.6,1.55],[15.58,1.32],[15.56,1.85],[15.54,2.05],[15.52,2.30],[15.5,1.95],[15.48,2.45],[15.46,2.15],[15.44,2.50],[15.42,2.10],[15.4,2.35],[15.38,1.95],[15.36,2.25],[15.34,1.85],[15.32,2.15],[15.3,1.80],[15.28,2.05],[15.26,1.70],[15.24,1.95],[15.22,1.65],[15.2,2.0],[15.18,2.30],[15.16,1.95],[15.14,2.25],[15.12,1.80],[15.1,2.05],[15.08,1.62],[15.06,1.90],[15.04,2.18],[15.02,1.85],
[14.98,2.25],[14.96,1.90],[14.94,2.15],[14.92,1.75],[14.9,2.05],[14.88,1.70],[14.86,2.0],[14.84,2.25],[14.82,1.85],[14.8,2.15],[14.78,1.65],[14.76,1.95],[14.74,2.30],[14.72,1.80],[14.7,2.10],[14.68,1.85],[14.66,2.20],[14.64,2.45],[14.62,2.15],[14.6,2.50],[14.58,2.0],[14.56,2.40],[14.54,2.05],[14.52,2.45],[14.5,2.10],[14.48,2.35],[14.46,1.95],[14.44,2.30],[14.42,1.90],[14.4,2.25],[14.38,1.95],[14.36,2.30],[14.34,1.85],[14.32,2.15],[14.3,2.45],[14.28,2.10],[14.26,2.55],[14.24,2.20],[14.22,2.62],[14.2,2.30],[14.18,2.68],[14.16,2.35],[14.14,2.60],[14.12,2.20],[14.1,2.48],[14.08,2.15],[14.06,2.45],[14.04,2.0],[14.02,2.30],
[13.98,2.05],[13.96,2.35],[13.94,1.95],[13.92,2.20],[13.9,1.85],[13.88,2.15],[13.86,2.40],[13.84,2.25],[13.82,2.65],[13.8,2.95],[13.78,2.70],[13.76,3.0],[13.74,2.75],[13.72,2.95],[13.7,2.60],[13.68,2.88],[13.66,2.62],[13.64,2.85],[13.62,2.55],[13.6,2.78],[13.58,2.50],[13.56,2.70],[13.54,2.40],[13.52,2.62],[13.5,2.35],[13.48,2.65],[13.46,2.80],[13.44,2.60],[13.42,2.85],[13.4,2.65],[13.38,2.90],[13.36,2.62],[13.34,2.88],[13.32,2.70],[13.3,2.95],[13.28,2.72]];

const FONT = 'DejaVu Sans';
const TXT = '#222';
const chart = echarts.init(document.getElementById('c'), null, {renderer: 'canvas'});

function ageAxis(gridIndex, visible) {
  return {
    type: 'value', gridIndex: gridIndex, min: AGE_MIN, max: AGE_MAX, inverse: true,
    show: visible, splitLine: {show: false},
    axisLine: {show: visible, onZero: false, lineStyle: {color: '#000', width: 1}},
    axisTick: {show: visible, length: 3.5, lineStyle: {color: '#000'}, customValues: ageTicks},
    axisLabel: {show: visible, customValues: ageTicks, margin: 8, fontSize: 12, fontFamily: FONT, color: TXT},
    name: visible ? 'Age (Ma)' : '', nameLocation: 'middle', nameGap: 28,
    nameTextStyle: {fontSize: 13, fontFamily: FONT, color: TXT}
  };
}
function valAxis(gridIndex, mn, mx, ticks, name) {
  return {
    type: 'value', gridIndex: gridIndex, min: mn, max: mx, splitLine: {show: false},
    axisLine: {show: true, onZero: false, lineStyle: {color: '#000', width: 1}},
    axisTick: {show: true, length: 3.5, lineStyle: {color: '#000'}, customValues: ticks},
    axisLabel: {customValues: ticks, margin: 10, fontSize: 12, fontFamily: FONT, color: TXT,
      formatter: v => v.toFixed(1)},
    name: name, nameLocation: 'middle', nameRotate: 90, nameGap: 40,
    nameTextStyle: {fontSize: 13, fontFamily: FONT, color: TXT}
  };
}

const shadeAreas = shadeStart.map((s, i) => [{xAxis: s}, {xAxis: shadeEnd[i]}]);
const eventLines = eventAges.map(a => ({xAxis: a}));

function panelSeries(idx, pts, line) {
  return [
    {type: 'line', xAxisIndex: idx, yAxisIndex: idx, data: [], silent: true, z: 1,
      markArea: {silent: true, itemStyle: {color: 'rgba(255,165,0,0.3)', borderColor: 'rgba(255,165,0,0.35)', borderWidth: 1}, data: shadeAreas}},
    {type: 'scatter', xAxisIndex: idx, yAxisIndex: idx, data: pts, symbolSize: 3.6, silent: true, z: 2,
      itemStyle: {color: 'rgba(190,190,190,0.7)'}},
    {type: 'line', xAxisIndex: idx, yAxisIndex: idx, data: [], silent: true, z: 3,
      markLine: {silent: true, symbol: ['none', 'none'], label: {show: false},
        lineStyle: {color: '#808080', width: 2, type: [7, 3.5]}, data: eventLines}},
    {type: 'line', xAxisIndex: idx, yAxisIndex: idx, data: line, showSymbol: false, silent: true, z: 4,
      lineStyle: {color: '#000', width: 2.8}, clip: true}
  ];
}

const epochData = epochNames.map((n, i) => [epochStart[i], epochEnd[i], i]);

const option = {
  animation: false,
  backgroundColor: '#fff',
  grid: [
    {left: 67, top: 13, width: 972, height: 43},
    {left: 67, top: 105, width: 972, height: 266},
    {left: 67, top: 420, width: 972, height: 265}
  ],
  xAxis: [ageAxis(0, false), ageAxis(1, false), ageAxis(2, true)],
  yAxis: [
    {type: 'value', gridIndex: 0, min: 0, max: 1, show: false},
    valAxis(1, C13_MIN, C13_MAX, c13Ticks, 'δ¹³C (‰)'),
    valAxis(2, O18_MIN, O18_MAX, o18Ticks, 'δ¹⁸O (‰)')
  ],
  series: [
    {type: 'custom', xAxisIndex: 0, yAxisIndex: 0, data: epochData, silent: true,
      renderItem: function (params, api) {
        const s = Math.min(api.value(0), AGE_MAX), e = Math.max(api.value(1), AGE_MIN);
        const i = api.value(2);
        const p1 = api.coord([s, 1]), p2 = api.coord([e, 0]);
        return {type: 'group', children: [
          {type: 'rect', shape: {x: p1[0], y: p1[1], width: p2[0] - p1[0], height: p2[1] - p1[1]},
            style: {fill: epochColors[i], stroke: '#333', lineWidth: 1}},
          {type: 'text', style: {text: epochNames[i], x: (p1[0] + p2[0]) / 2, y: (p1[1] + p2[1]) / 2,
            align: 'center', verticalAlign: 'middle', fontSize: 10.5, fontFamily: FONT, fill: '#111'}}
        ]};
      }}
  ].concat(panelSeries(1, c13Scatter, c13Line), panelSeries(2, o18Scatter, o18Line))
};
chart.setOption(option);
</script></body></html>
